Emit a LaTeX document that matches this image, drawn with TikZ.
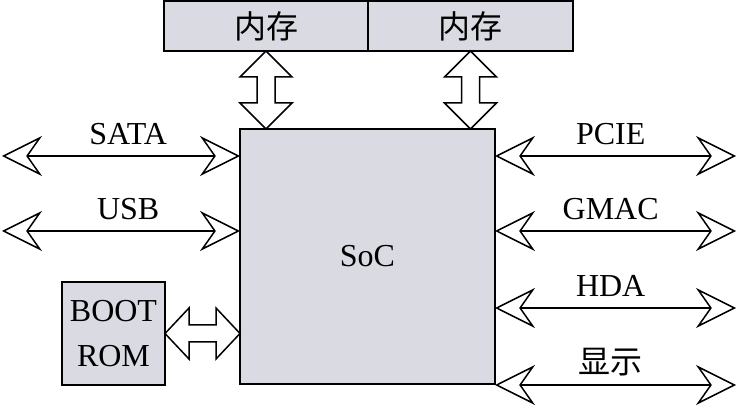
\documentclass[tikz,border=0pt]{standalone}
\usepackage{fontspec}
\setmainfont{Liberation Serif}
\newfontfamily\cjk{Noto Sans CJK SC}
\usetikzlibrary{positioning}
\usetikzlibrary{arrows.meta}
\definecolor{cc}{RGB}{218, 218, 227}

\begin{document}
\begin{tikzpicture}[every node/.style={inner sep=0pt}, font=\fontsize{32}{45}\selectfont,
  box/.style={rectangle, fill=cc, line width=1.5pt, draw=black, outer sep=0pt},
  bus/.style={line width=1.5pt, {Stealth[open, length=40pt, width=40pt, inset=14pt]}-{Stealth[open, length=40pt, width=40pt, inset=14pt]}},
  fat/.style={line width=1.5pt, fill=white, draw=black, line join=miter},
  lbl/.style={above=11pt, text depth=0pt}]
\useasboundingbox (0pt, 0pt) rectangle (737pt, -406pt);
\node (m1) [box, minimum width=204pt, minimum height=50pt] at (266.0pt, -26.0pt) {\cjk 内存};
\node (m2) [box, minimum width=205pt, minimum height=50pt, right=0pt of m1] {\cjk 内存};
\node (soc) [box, minimum width=255pt, minimum height=255pt] at (367.5pt, -256.5pt) {SoC};
\node (boot) [box, minimum width=103pt, minimum height=103pt, align=center] at (113.5pt, -333.5pt) {BOOT\\ROM};
\coordinate (sata) at (2.0pt, -156.0pt);
\coordinate (usb) at (2.0pt, -231.0pt);
\coordinate (pcie) at (736.0pt, -156.0pt);
\coordinate (gmac) at (736.0pt, -231.0pt);
\coordinate (hda) at (736.0pt, -308.0pt);
\coordinate (disp) at (736.0pt, -385.0pt);
\draw [bus] (sata) -- node [lbl, pos=0.53] {SATA} (sata -| soc.west);
\draw [bus] (usb) -- node [lbl, pos=0.53] {USB} (usb -| soc.west);
\draw [bus] (pcie -| soc.east) -- node [lbl, pos=0.48] {PCIE} (pcie);
\draw [bus] (gmac -| soc.east) -- node [lbl, pos=0.48] {GMAC} (gmac);
\draw [bus] (hda -| soc.east) -- node [lbl, pos=0.48] {HDA} (hda);
\draw [bus] (disp -| soc.east) -- node [lbl, pos=0.48] {\cjk 显示} (disp);
\draw [fat] (m1.south) -- ++(26pt, -26pt) -- ++(-17pt, 0pt) -- ++(0pt, -26pt) -- ++(17pt, 0pt) -- (m1.south |- soc.north) -- ++(-26pt, 26pt) -- ++(17pt, 0pt) -- ++(0pt, 26pt) -- ++(-17pt, 0pt) -- cycle;
\draw [fat] (m2.south) -- ++(26pt, -26pt) -- ++(-17pt, 0pt) -- ++(0pt, -26pt) -- ++(17pt, 0pt) -- (m2.south |- soc.north) -- ++(-26pt, 26pt) -- ++(17pt, 0pt) -- ++(0pt, 26pt) -- ++(-17pt, 0pt) -- cycle;
\draw [fat] (boot.east) -- ++(24pt, 25.5pt) -- ++(0pt, -17pt) -- ++(27pt, 0pt) -- ++(0pt, 17pt) -- (boot.east -| soc.west) -- ++(-24pt, -25.5pt) -- ++(0pt, 17pt) -- ++(-27pt, 0pt) -- ++(0pt, -17pt) -- cycle;
\end{tikzpicture}
\end{document}
